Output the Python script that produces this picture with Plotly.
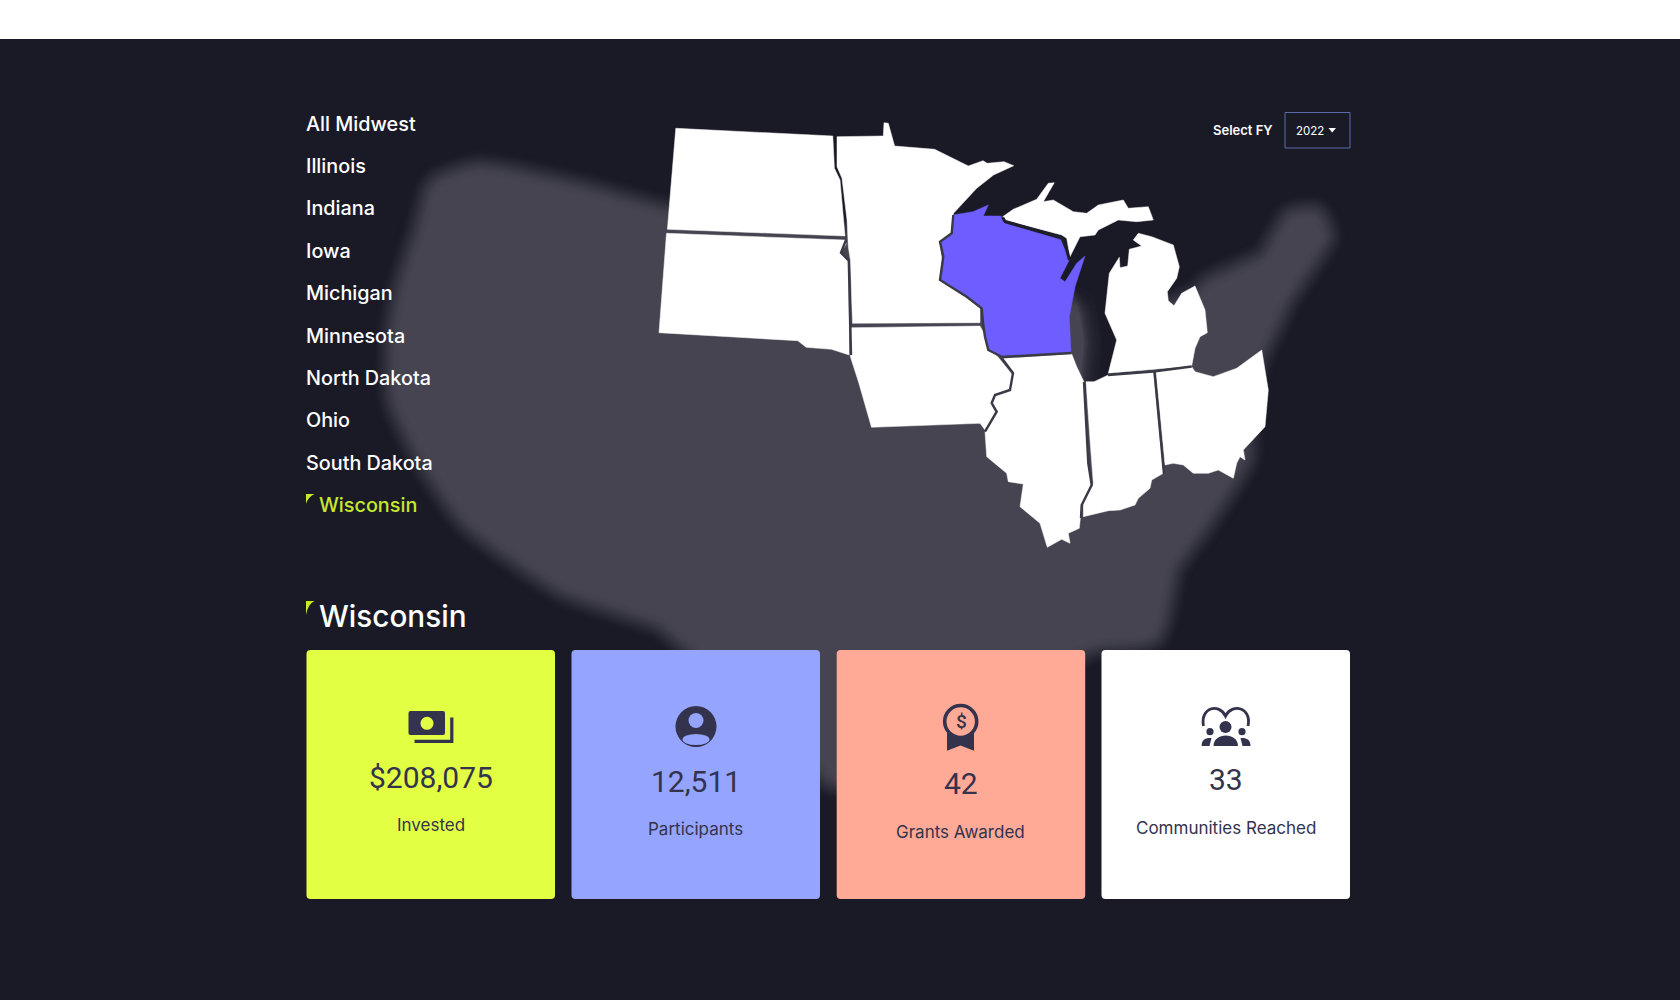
import plotly.graph_objects as go

# menu + cards
menu_items = ["All Midwest", "Illinois", "Indiana", "Iowa", "Michigan", "Minnesota",
              "North Dakota", "Ohio", "South Dakota", "Wisconsin"]
selected_state = "Wisconsin"
fiscal_year = "2022"
card_values = ["$208,075", "12,511", "42", "33"]
card_labels = ["Invested", "Participants", "Grants Awarded", "Communities Reached"]

# state outlines, the axes run in page pixels
north_dakota = [(675.8,128.3),(832.8,136),(834.4,168.3),(840,180),(845,236),(667.4,229.3)]
south_dakota = [(666.5,233.3),(845,240),(846.2,244),(840.8,252.7),(848.3,260.7),(849.2,355),(831.5,349.3),
                (806.2,347.3),(797.8,340.7),(659,332.7)]
minnesota = [(837,136.7),(883.3,136),(884,122.7),(888.3,123.3),(894.6,146),(934.6,149.3),(968.3,166),(983,160.7),
             (987.2,163.3),(1004,161.7),(1013.7,165.7),(993.5,175),(976.7,188.3),(953.5,213.3),(951.5,233.3),
             (939.7,243.3),(942,260),(939.7,280),(960,291.7),(980,308.3),(980,322.7),(852.5,323.3),(850.4,260),
             (848.3,246.7),(847,220),(842,178.3),(837,166.7)]
iowa = [(851.3,327.7),(980,326),(985,335),(987,346.7),(997.8,356.7),(1012.5,375),(1010.4,390.7),(995.6,395),
        (991.4,405),(997,415),(985,430),(980,423.3),(871.5,427.3),(858.9,383.3),(850.4,356.7)]
wisconsin = [(953.3,215),(973,211.7),(988.3,205),(983.3,216),(1000.7,216),(1005,223.3),(1061.7,240),(1066.7,250),
             (1069.3,260),(1060,278.3),(1065,281.7),(1076.7,263.3),(1085,256),(1075,286.7),(1069.3,316.7),(1071,352.7),
             (1001.7,356.7),(988.3,350),(985,336.7),(983.3,325),(981.7,308.3),(966.7,296.7),(940,280),(943.3,256.7),
             (940,241.7),(951.7,233.3)]
illinois = [(1003,358.5),(1071.7,354),(1076.7,366.7),(1084,382),(1088.3,463.3),(1091.7,485),(1081.7,505),(1079.3,528.3),
            (1068.3,533.3),(1070,543.3),(1061.7,539.3),(1047.3,547.3),(1040,523.3),(1020,506.7),(1023.3,484),
            (1008.3,481.7),(1006.7,473.3),(986.7,456.7),(985,431.7),(996.7,411.7),(991.7,403),(995,395),(1010,390),
            (1013,373)]
indiana = [(1086,381.7),(1094,381.7),(1108.3,375),(1153.3,371.7),(1163.3,473.3),(1151.7,480),(1150,488.3),(1138.3,498.3),
           (1135,505),(1120,510),(1108.3,510.7),(1083.3,516.7),(1083.3,503.3),(1093.3,483.3),(1090,440)]
ohio = [(1156,371.7),(1191.7,366.7),(1195,371.7),(1213.3,376.7),(1236.7,368.3),(1261.7,350),(1268.3,390),(1265,426.7),
        (1243.3,450),(1245,460),(1240,456.7),(1236.7,463.3),(1233.3,478.3),(1218.3,470),(1208.3,473.3),(1193.3,473.3),
        (1183.3,465),(1173.3,463.3),(1165,465)]
michigan_lower = [(1108.3,373.3),(1116.7,340),(1105,313.3),(1109.3,273.3),(1119.3,257.3),(1120,267.7),(1127.7,266),
                  (1129.3,249.3),(1141.7,246),(1133.3,240),(1138.3,233.3),(1151.7,236.7),(1173.3,245),(1179.3,266.7),
                  (1176.7,278.3),(1167.3,291.7),(1168.3,300.7),(1174,305.7),(1181.7,293.3),(1195,286),(1205,310),
                  (1207.3,332.7),(1200,336.7),(1195,348.3),(1191.7,366)]
michigan_upper = [(1002.7,216.7),(1013.3,209.3),(1036.7,199.3),(1048.3,183.3),(1054.3,182.7),(1043.3,201.7),(1053.3,200),
                  (1073.3,211.7),(1086.7,213.3),(1098.3,205),(1123.3,200),(1128.3,208.3),(1148.3,206.7),(1153.3,220),
                  (1136.7,221.7),(1118.3,220),(1098.3,230),(1095,235),(1080,236.7),(1070,256.7),(1066.7,238.3),
                  (1061.7,235),(1005,220)]

# lines between neighbouring states
border_wi_mn = [(953.3,215),(951.7,233.3),(940,241.7),(943.3,256.7),(940,280),(966.7,296.7),(981.7,308.3),(983.3,325)]
border_wi_ia = [(983.3,325),(985,336.7),(988.3,350),(1001.7,356.7)]
border_ia_il = [(1001.7,358),(1013,373),(1010,390),(995,395),(991.7,403),(996.7,411.7),(985,431.7)]
border_wi_il = [(1001.7,357),(1071.5,353)]
border_il_in = [(1084,382),(1088.3,463.3),(1091.7,485),(1081.7,505),(1081,518)]
border_in_oh = [(1154.5,372),(1164,474)]
border_in_mi = [(1108,375),(1153.3,371.5),(1191.7,366.5)]
border_sd_mn = [(846,240),(841,252.7),(848.8,260.7),(851,355)]
border_wi_up = [(1002.7,217.5),(1005,221.5),(1061.7,237.5),(1066.7,250),(1069.5,260)]

# the blurred country behind the map
us_shadow = [(442,187),(480,175),(580,195),(665,218),(800,235),(900,250),(1040,295),(1085,315),(1150,320),(1200,300),
             (1213,288),(1268,262),(1294,222),(1313,220),(1320,236),(1312,250),(1280,298),(1266,328),(1255,350),
             (1238,400),(1240,455),(1200,520),(1168,565),(1150,632),(1093,640),(1000,680),(880,720),(835,775),
             (800,730),(750,690),(690,640),(663,618),(566,584),(470,517),(425,452),(400,398),(399,340),(408,287),
             (426,232),(436,195)]
lake_michigan = [(1080,250),(1130,240),(1125,340),(1118,372),(1100,385),(1102,340),(1095,300)]

BG = (26, 26, 39)
SHADOW = (69, 68, 80)
BG_HEX = "#1a1a27"
SHADOW_HEX = "#454450"
INK = "#33334d"
LIME = "#e2ff44"
BLUE = "#94a4ff"
SALMON = "#ffaa96"
PURPLE = "#6e5eff"
GREEN_TEXT = "#c6e82e"
FONT = "Inter"


def xs(pts, close=True):
    out = [p[0] for p in pts]
    return out + [out[0]] if close else out


def ys(pts, close=True):
    out = [p[1] for p in pts]
    return out + [out[0]] if close else out


def mix(a, b, t):
    t = t * t * (3 - 2 * t)
    return "rgb(%d,%d,%d)" % tuple(a[i] + (b[i] - a[i]) * t for i in range(3))


def soft_edge(fig, pts, widest, layers):
    # no blur in plotly: opaque strokes, widest first, stepping from page colour to the shadow
    for i in range(layers):
        t = (i + 1) / (layers + 1)
        fig.add_trace(go.Scatter(x=xs(pts), y=ys(pts), mode="lines",
                                 line=dict(color=mix(BG, SHADOW, t), width=widest * (1 - i / layers),
                                           shape="spline", smoothing=0.6),
                                 hoverinfo="skip"))
    fig.add_trace(go.Scatter(x=xs(pts), y=ys(pts), mode="lines", fill="toself", fillcolor=SHADOW_HEX,
                             line=dict(color=SHADOW_HEX, width=0.5, shape="spline", smoothing=0.6), hoverinfo="skip"))


def soft_lake(fig, pts, widths, alpha):
    for w in widths:
        fig.add_trace(go.Scatter(x=xs(pts), y=ys(pts), mode="lines",
                                 line=dict(color="rgba(26,26,39,%s)" % alpha, width=w, shape="spline", smoothing=0.6),
                                 hoverinfo="skip"))
    fig.add_trace(go.Scatter(x=xs(pts), y=ys(pts), mode="lines", fill="toself", fillcolor=BG_HEX,
                             line=dict(color=BG_HEX, width=0.5, shape="spline", smoothing=0.6), hoverinfo="skip"))


def add_state(fig, pts, color):
    fig.add_trace(go.Scatter(x=xs(pts), y=ys(pts), mode="lines", fill="toself", fillcolor=color,
                             line=dict(color=color, width=0.5), hoverinfo="skip"))


def add_border(fig, pts, color="#3a3a46", width=2.4):
    fig.add_trace(go.Scatter(x=xs(pts, False), y=ys(pts, False), mode="lines",
                             line=dict(color=color, width=width), hoverinfo="skip"))


def add_text(text, x, y, size, color, anchor="left", family=FONT, weight=400):
    fig.add_annotation(x=x, y=y, text=text, showarrow=False, xanchor=anchor, yanchor="middle",
                       font=dict(family=family, size=size, color=color, weight=weight))


fig = go.Figure()

soft_edge(fig, us_shadow, 54, 18)
soft_lake(fig, lake_michigan, [36, 32, 28, 24, 20, 16, 12, 8, 4], 0.22)

for state in [north_dakota, south_dakota, minnesota, iowa, illinois, indiana, ohio, michigan_lower, michigan_upper]:
    add_state(fig, state, "#ffffff")
add_state(fig, wisconsin, PURPLE)
for line in [border_wi_mn, border_wi_ia, border_ia_il, border_wi_il, border_il_in, border_in_oh, border_in_mi, border_sd_mn]:
    add_border(fig, line)
add_border(fig, border_wi_up, color="#1f1f2c", width=3)

shapes = []
# white strip at the top of the page
shapes.append(dict(type="rect", x0=0, x1=1680, y0=0, y1=39, fillcolor="#ffffff", line_width=0))

# FY selector
shapes.append(dict(type="rect", x0=1285, x1=1350, y0=112.5, y1=148, fillcolor="rgba(0,0,0,0)",
                   line=dict(color="#5c6aa8", width=1)))
shapes.append(dict(type="path", path="M 1328.5 128 L 1336 128 L 1332.2 132.5 Z", fillcolor="#ffffff", line_width=0))

# little corner flags next to the selected state
flag = "M {0} {1} L {2} {1} Q {3} {4} {0} {5} Z"
shapes.append(dict(type="path", path=flag.format(306, 494, 314.5, 308, 497, 504), fillcolor=GREEN_TEXT, line_width=0))
shapes.append(dict(type="path", path=flag.format(306, 601, 314.5, 308, 604, 615), fillcolor=GREEN_TEXT, line_width=0))

# cards
card_left = [306.5, 571.5, 836.7, 1101.5]
card_width = 248.5
card_color = [LIME, BLUE, SALMON, "#ffffff"]
card_value_y = [777, 781, 783, 779]
card_label_y = [825, 829, 832, 828]
r = 4
for left, col in zip(card_left, card_color):
    right = left + card_width
    top, bot = 650, 899
    shapes.append(dict(type="path", fillcolor=col, line_width=0, path=(
        f"M {left+r} {top} L {right-r} {top} Q {right} {top} {right} {top+r} L {right} {bot-r} "
        f"Q {right} {bot} {right-r} {bot} L {left+r} {bot} Q {left} {bot} {left} {bot-r} "
        f"L {left} {top+r} Q {left} {top} {left+r} {top} Z")))


def circle(cx, cy, rx, fill, ry=None, line=None):
    ry = rx if ry is None else ry
    return dict(type="circle", x0=cx-rx, x1=cx+rx, y0=cy-ry, y1=cy+ry, fillcolor=fill,
                line=line if line else dict(width=0))


# money icon
shapes.append(dict(type="path", fillcolor=INK, line_width=0,
                   path="M 410.5 711 L 443 711 Q 445 711 445 713 L 445 733 Q 445 735 443 735 L 410.5 735 "
                        "Q 408.5 735 408.5 733 L 408.5 713 Q 408.5 711 410.5 711 Z"))
shapes.append(circle(427, 723.3, 6.5, LIME))
shapes.append(dict(type="path", path="M 414.5 741.3 L 451.8 741.3 L 451.8 717.5", fillcolor="rgba(0,0,0,0)",
                   line=dict(color=INK, width=3.2)))
# person icon
shapes.append(circle(696, 726.5, 20.5, INK))
shapes.append(circle(696, 720.5, 7.5, BLUE))
shapes.append(circle(696, 739.5, 13.5, BLUE, ry=5.5))
# award icon
shapes.append(dict(type="path", fillcolor=INK, line_width=0,
                   path="M 947 733 L 974 733 L 974 750.8 L 960.5 745.5 L 947 750.8 Z"))
shapes.append(circle(960.7, 721.5, 16, SALMON, line=dict(color=INK, width=3.6)))
# communities icon
shapes.append(dict(type="path", fillcolor="rgba(0,0,0,0)", line=dict(color=INK, width=2.8),
                   path="M 1203.5 726 C 1200 707 1219 703 1225.5 716 C 1232 703 1252 707 1248 726"))
shapes.append(circle(1225.5, 727, 6, INK))
shapes.append(dict(type="path", fillcolor=INK, line_width=0,
                   path="M 1213.5 746 C 1213.5 732 1238 732 1238 746 Z"))
shapes.append(circle(1210, 731.7, 3.6, INK))
shapes.append(circle(1242, 731.7, 3.6, INK))
shapes.append(dict(type="path", fillcolor=INK, line_width=0,
                   path="M 1201.6 746 C 1201.6 739 1206 737.5 1211.5 738 L 1209.5 746 Z"))
shapes.append(dict(type="path", fillcolor=INK, line_width=0,
                   path="M 1250.5 746 C 1250.5 739 1246 737.5 1240.5 738 L 1242.5 746 Z"))

fig.update_layout(shapes=shapes)

# left menu
for i, name in enumerate(menu_items):
    y = 123.5 + i * 42.4
    if name == selected_state:
        add_text(name, 316.5, y, 19.8, GREEN_TEXT, weight=500)
    else:
        add_text(name, 303.5, y, 19.8, "#ffffff", weight=500)

add_text(selected_state, 316.5, 616, 29.7, "#ffffff", weight=500)
add_text("Select FY", 1275, 130, 13, "#ffffff", anchor="right", weight=600)
add_text(fiscal_year, 1310, 130.5, 11.5, "#ffffff", anchor="center")

card_center = [left + card_width / 2 for left in card_left]
add_text("$", card_center[2] + 0.5, 721, 19, INK, anchor="center", family="Roboto", weight=500)
for cx, val, lab, vy, ly in zip(card_center, card_values, card_labels, card_value_y, card_label_y):
    add_text(val, cx, vy, 30, INK, anchor="center", family="Roboto")
    add_text(lab, cx, ly, 17, INK, anchor="center")

fig.update_layout(
    width=1680, height=1000,
    margin=dict(l=0, r=0, t=0, b=0),
    paper_bgcolor=BG_HEX, plot_bgcolor=BG_HEX,
    showlegend=False,
    xaxis=dict(range=[0, 1680], visible=False, fixedrange=True),
    yaxis=dict(range=[1000, 0], visible=False, fixedrange=True),
)

fig.write_html("out.html", config=dict(displayModeBar=False),
               post_script="document.body.style.margin='0';document.body.style.background='%s';" % BG_HEX)
